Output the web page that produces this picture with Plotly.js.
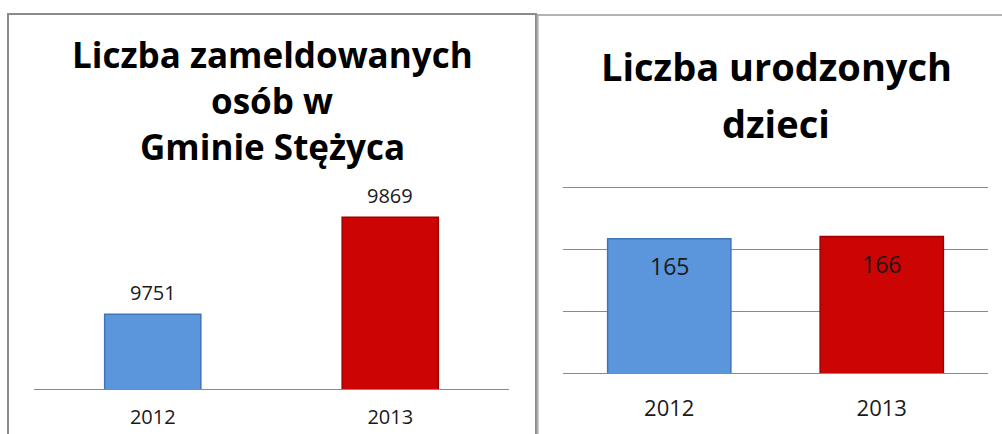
<!DOCTYPE html>
<html>
<head>
<meta charset="utf-8">
<script src="https://cdn.plot.ly/plotly-3.0.1.min.js"></script>
<style>
  html, body { margin: 0; padding: 0; background: #ffffff; }
  #chart { width: 1002px; height: 434px; }
</style>
</head>
<body>
<div id="chart"></div>
<script>
// ---- data ----
const years = ["2012", "2013"];
const registeredPeople = [9751, 9869];
const bornChildren = [165, 166];
const barColors = ["#5b96dc", "#cc0404"];
const barEdges = ["#3f74b6", "#9c0000"];
const titleLeft = ["Liczba zameldowanych", "osób w", "Gminie Stężyca"];
const titleRight = ["Liczba urodzonych", "dzieci"];

// ---- helpers (pixel -> paper) ----
const W = 1002, H = 434;
const px = v => v / W;
const py = v => 1 - v / H;

const labelFont = { family: "Open Sans, sans-serif", color: "#1a1a1a" };
const titleFont = { family: "Open Sans, sans-serif", color: "#000000", weight: 700 };

const traces = [
  {
    type: "bar", x: years, y: registeredPeople, xaxis: "x", yaxis: "y",
    width: 0.405,
    marker: { color: barColors, line: { color: barEdges, width: 1.5 } },
    hoverinfo: "x+y", showlegend: false
  },
  {
    type: "bar", x: years, y: bornChildren, xaxis: "x2", yaxis: "y2",
    width: 0.58,
    marker: { color: barColors, line: { color: barEdges, width: 1.5 } },
    hoverinfo: "x+y", showlegend: false
  }
];

const annotations = [];
// value labels, left panel (above bars) — category axis: x is the category index
years.forEach((yr, i) => {
  annotations.push({
    xref: "x", yref: "y", x: i, y: registeredPeople[i],
    text: String(registeredPeople[i]), showarrow: false,
    yanchor: "middle", yshift: 22,
    font: Object.assign({ size: 20 }, labelFont)
  });
});
// value labels, right panel (inside top of bars)
years.forEach((yr, i) => {
  annotations.push({
    xref: "x2", yref: "y2", x: i, y: bornChildren[i],
    text: String(bornChildren[i]), showarrow: false,
    yanchor: "middle", yshift: -27,
    font: Object.assign({ size: 23 }, labelFont)
  });
});
// titles
const leftTitleY = [55, 100, 147];
titleLeft.forEach((t, i) => {
  annotations.push({
    xref: "paper", yref: "paper", x: px(272), y: py(leftTitleY[i]),
    xanchor: "center", yanchor: "middle", showarrow: false, text: t,
    font: Object.assign({ size: 35 }, titleFont)
  });
});
const rightTitleY = [66, 123];
titleRight.forEach((t, i) => {
  annotations.push({
    xref: "paper", yref: "paper", x: px(776), y: py(rightTitleY[i]),
    xanchor: "center", yanchor: "middle", showarrow: false, text: t,
    font: Object.assign({ size: 38 }, titleFont)
  });
});

const layout = {
  width: W, height: H,
  margin: { l: 0, r: 0, t: 0, b: 0, pad: 0 },
  paper_bgcolor: "#ffffff", plot_bgcolor: "rgba(0,0,0,0)",
  showlegend: false,
  xaxis: {
    domain: [px(34), px(509)], type: "category", range: [-0.5, 1.5],
    showline: true, linecolor: "#8a8a8a", linewidth: 1,
    showgrid: false, zeroline: false, ticks: "",
    tickfont: Object.assign({ size: 20 }, labelFont),
    ticklabelstandoff: 10, fixedrange: true
  },
  yaxis: {
    domain: [py(389), py(191.7)], range: [9660, 9900],
    showgrid: false, zeroline: false, showline: false,
    showticklabels: false, ticks: "", fixedrange: true
  },
  xaxis2: {
    domain: [px(563), px(988)], type: "category", anchor: "y2", range: [-0.5, 1.5],
    showline: true, linecolor: "#8a8a8a", linewidth: 1,
    showgrid: false, zeroline: false, ticks: "",
    tickfont: Object.assign({ size: 22 }, labelFont),
    ticklabelstandoff: 16, fixedrange: true
  },
  yaxis2: {
    domain: [py(373), py(182.9)], range: [100, 192], anchor: "x2",
    tick0: 100, dtick: 30, showgrid: true, gridcolor: "#8a8a8a", gridwidth: 1,
    zeroline: false, showline: false, showticklabels: false, ticks: "",
    fixedrange: true
  },
  annotations: annotations,
  shapes: [
    { type: "rect", xref: "paper", yref: "paper",
      x0: px(8), x1: px(536), y0: -0.1, y1: py(14),
      line: { color: "#8c8c8c", width: 2 }, fillcolor: "rgba(0,0,0,0)", layer: "above" },
    { type: "rect", xref: "paper", yref: "paper",
      x0: px(537), x1: 1.1, y0: -0.1, y1: py(15),
      line: { color: "#9a9a9a", width: 1.5 }, fillcolor: "rgba(0,0,0,0)", layer: "above" },
    { type: "line", xref: "paper", yref: "paper",
      x0: px(538.5), x1: px(538.5), y0: -0.1, y1: py(16),
      line: { color: "#d0d0d0", width: 1 }, layer: "above" }
  ]
};

Plotly.newPlot("chart", traces, layout, { staticPlot: true, displayModeBar: false });
</script>
</body>
</html>
